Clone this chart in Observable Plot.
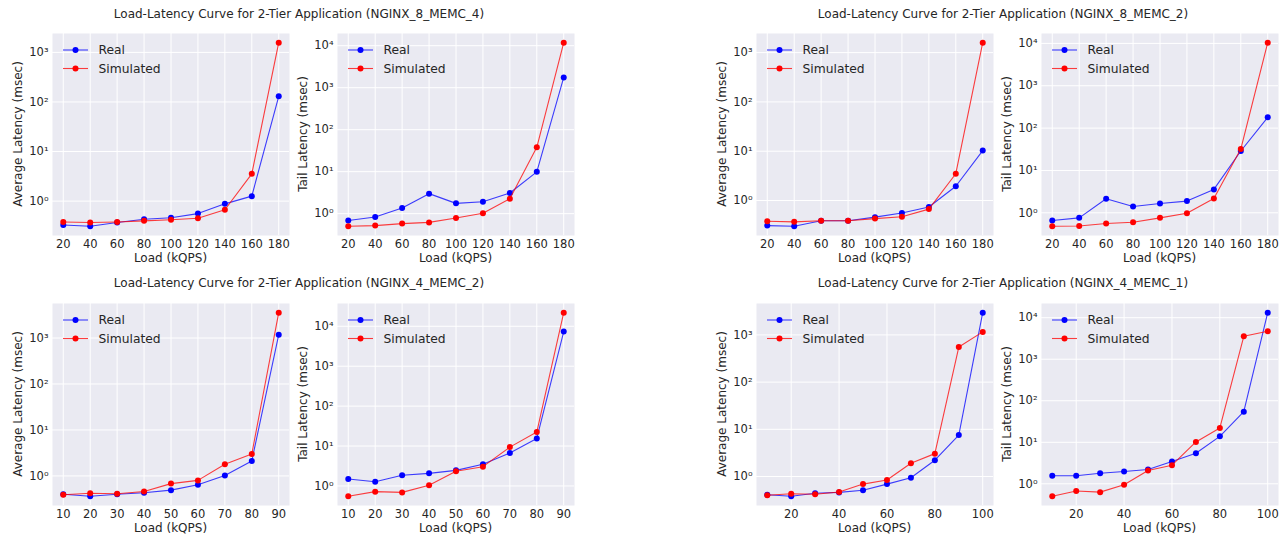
<!DOCTYPE html>
<html>
<head>
<meta charset="utf-8">
<script src="https://cdn.jsdelivr.net/npm/d3@7"></script>
<script src="https://cdn.jsdelivr.net/npm/@observablehq/plot@0.6"></script>
<style>
  body { margin: 0; background: white; }
  #fig { position: relative; width: 1281px; height: 535px; background: white; font-family: "DejaVu Sans", sans-serif; color: #262626; overflow: hidden; }
  .title { position: absolute; font-size: 12px; white-space: nowrap; transform: translate(-50%, -50%); color: #262626; }
  .panel { position: absolute; }
</style>
</head>
<body>
<div id="fig"></div>
<script>
// ---------------- Data ----------------
const titles = [
  "Load-Latency Curve for 2-Tier Application (NGINX_8_MEMC_4)",
  "Load-Latency Curve for 2-Tier Application (NGINX_8_MEMC_2)",
  "Load-Latency Curve for 2-Tier Application (NGINX_4_MEMC_2)",
  "Load-Latency Curve for 2-Tier Application (NGINX_4_MEMC_1)"
];
const seriesNames = ["Real", "Simulated"];
const xLabel = "Load (kQPS)";
const avgLabel = "Average Latency (msec)";
const tailLabel = "Tail Latency (msec)";

// Loads (kQPS)
const load_8 = [20, 40, 60, 80, 100, 120, 140, 160, 180];
const load_4_2 = [10, 20, 30, 40, 50, 60, 70, 80, 90];
const load_4_1 = [10, 20, 30, 40, 50, 60, 70, 80, 90, 100];

// x tick labels
const ticks_8 = [20, 40, 60, 80, 100, 120, 140, 160, 180];
const ticks_4_2 = [10, 20, 30, 40, 50, 60, 70, 80, 90];
const ticks_4_1 = [20, 40, 60, 80, 100];

// NGINX_8_MEMC_4
const avg_8_4_real = [0.33, 0.31, 0.37, 0.43, 0.46, 0.56, 0.88, 1.26, 130];
const avg_8_4_sim  = [0.38, 0.37, 0.38, 0.40, 0.42, 0.45, 0.67, 3.55, 1570];
const tail_8_4_real = [0.69, 0.83, 1.37, 3.0, 1.76, 1.93, 3.11, 9.9, 1760];
const tail_8_4_sim  = [0.50, 0.52, 0.58, 0.62, 0.79, 1.02, 2.28, 38, 11800];

// NGINX_8_MEMC_2
const avg_8_2_real = [0.31, 0.30, 0.39, 0.39, 0.46, 0.56, 0.74, 1.95, 10.3];
const avg_8_2_sim  = [0.38, 0.37, 0.39, 0.39, 0.43, 0.47, 0.67, 3.5, 1590];
const tail_8_2_real = [0.66, 0.76, 2.14, 1.41, 1.66, 1.89, 3.57, 28.8, 180];
const tail_8_2_sim  = [0.48, 0.49, 0.56, 0.60, 0.76, 0.98, 2.18, 32, 10400];

// NGINX_4_MEMC_2
const avg_4_2_real = [0.40, 0.36, 0.40, 0.43, 0.49, 0.64, 1.02, 2.12, 1180];
const avg_4_2_sim  = [0.39, 0.42, 0.41, 0.46, 0.68, 0.80, 1.79, 3.0, 3560];
const tail_4_2_real = [1.5, 1.28, 1.85, 2.07, 2.46, 3.48, 6.7, 15.5, 7370];
const tail_4_2_sim  = [0.55, 0.72, 0.69, 1.04, 2.33, 3.04, 9.4, 22.4, 21900];

// NGINX_4_MEMC_1
const avg_4_1_real = [0.41, 0.38, 0.44, 0.46, 0.51, 0.69, 0.94, 2.21, 7.55, 2960];
const avg_4_1_sim  = [0.40, 0.43, 0.42, 0.47, 0.69, 0.84, 1.91, 3.05, 553, 1160];
const tail_4_1_real = [1.56, 1.56, 1.80, 1.98, 2.21, 3.44, 5.45, 13.9, 54.5, 13200];
const tail_4_1_sim  = [0.50, 0.67, 0.63, 0.95, 2.09, 2.81, 10.2, 22.1, 3560, 4700];

// ---------------- Layout / style ----------------
const colors = ["#0000ff", "#ff0000"];
const PW = 237, PH = 202;
const mL = 56, mR = 4, mT = 4, mB = 34;
const tickFont = 11.5;
const supDigits = {"0":"⁰","1":"¹","2":"²","3":"³","4":"⁴","5":"⁵","-":"⁻"};
const sup = n => String(n).split("").map(c => supDigits[c]).join("");

const fig = document.getElementById("fig");

function panel(cfg) {
  const {x, real, sim, ticks, ylabel, left, top} = cfg;
  const all = real.concat(sim);
  const lo = Math.log10(d3.min(all)), hi = Math.log10(d3.max(all));
  const pad = (hi - lo) * 0.05;
  const xlo = d3.min(x), xhi = d3.max(x), xp = (xhi - xlo) * 0.05;
  const yTicks = d3.range(Math.ceil(lo - pad), Math.floor(hi + pad) + 1).map(e => Math.pow(10, e));
  const rows = x.map((v, i) => ({x: v, real: real[i], sim: sim[i]}));

  const svg = Plot.plot({
    width: mL + PW + mR,
    height: mT + PH + mB,
    marginLeft: mL, marginRight: mR, marginTop: mT, marginBottom: mB,
    style: {background: "transparent", fontFamily: "DejaVu Sans", fontSize: tickFont + "px", color: "#262626", overflow: "visible", maxWidth: "none"},
    x: {domain: [xlo - xp, xhi + xp]},
    y: {type: "log", domain: [Math.pow(10, lo - pad), Math.pow(10, hi + pad)]},
    marks: [
      Plot.frame({fill: "#EAEAF2", stroke: null}),
      Plot.gridX({ticks: ticks, stroke: "white", strokeOpacity: 1, strokeWidth: 1}),
      Plot.gridY({ticks: yTicks, stroke: "white", strokeOpacity: 1, strokeWidth: 1}),
      Plot.axisX({ticks: ticks, tickSize: 0, tickPadding: 4, label: null, fontSize: tickFont}),
      Plot.axisY({ticks: yTicks, tickSize: 0, tickPadding: 4, label: null, fontSize: tickFont,
                  tickFormat: d => "10" + sup(Math.round(Math.log10(d)))}),
      Plot.line(rows, {x: "x", y: "real", stroke: colors[0], strokeWidth: 1.1, strokeOpacity: 0.75}),
      Plot.dot(rows, {x: "x", y: "real", fill: colors[0], r: 3}),
      Plot.line(rows, {x: "x", y: "sim", stroke: colors[1], strokeWidth: 1.1, strokeOpacity: 0.75}),
      Plot.dot(rows, {x: "x", y: "sim", fill: colors[1], r: 3})
    ]
  });

  const s = d3.select(svg);
  // enforce tick label font size on all axis text produced by Plot
  s.selectAll("g[font-size]").attr("font-size", tickFont);
  s.selectAll("text").attr("font-size", tickFont).style("font-size", tickFont + "px").attr("fill", "#262626");
  // axis labels
  s.append("text")
    .attr("x", mL + PW / 2).attr("y", mT + PH + 23)
    .attr("text-anchor", "middle").attr("dominant-baseline", "central")
    .attr("fill", "#262626").style("font-size", "12px").text(xLabel);
  s.append("text")
    .attr("transform", `translate(${mL - 34},${mT + PH / 2}) rotate(-90)`)
    .attr("text-anchor", "middle").attr("dominant-baseline", "central")
    .attr("fill", "#262626").style("font-size", "12px").text(ylabel);
  // legend
  const lg = s.append("g").attr("transform", `translate(${mL},${mT})`);
  seriesNames.forEach((name, i) => {
    const yy = 17 + i * 18.5;
    lg.append("line").attr("x1", 11).attr("x2", 36).attr("y1", yy).attr("y2", yy)
      .attr("stroke", colors[i]).attr("stroke-width", 1.1).attr("stroke-opacity", 0.75);
    lg.append("circle").attr("cx", 23.5).attr("cy", yy).attr("r", 3).attr("fill", colors[i]);
    lg.append("text").attr("x", 46.5).attr("y", yy).attr("dominant-baseline", "central")
      .attr("text-anchor", "start")
      .attr("fill", "#262626").style("font-size", "12.3px").text(name);
  });

  const wrap = document.createElement("div");
  wrap.className = "panel";
  wrap.style.left = (left - mL) + "px";
  wrap.style.top = (top - mT) + "px";
  wrap.style.width = (mL + PW + mR) + "px";
  wrap.appendChild(svg);
  fig.appendChild(wrap);
}

const topY = 33, botY = 303;
const lefts = [52, 337, 756, 1041];

panel({x: load_8, real: avg_8_4_real, sim: avg_8_4_sim, ticks: ticks_8, ylabel: avgLabel, left: lefts[0], top: topY});
panel({x: load_8, real: tail_8_4_real, sim: tail_8_4_sim, ticks: ticks_8, ylabel: tailLabel, left: lefts[1], top: topY});
panel({x: load_8, real: avg_8_2_real, sim: avg_8_2_sim, ticks: ticks_8, ylabel: avgLabel, left: lefts[2], top: topY});
panel({x: load_8, real: tail_8_2_real, sim: tail_8_2_sim, ticks: ticks_8, ylabel: tailLabel, left: lefts[3], top: topY});
panel({x: load_4_2, real: avg_4_2_real, sim: avg_4_2_sim, ticks: ticks_4_2, ylabel: avgLabel, left: lefts[0], top: botY});
panel({x: load_4_2, real: tail_4_2_real, sim: tail_4_2_sim, ticks: ticks_4_2, ylabel: tailLabel, left: lefts[1], top: botY});
panel({x: load_4_1, real: avg_4_1_real, sim: avg_4_1_sim, ticks: ticks_4_1, ylabel: avgLabel, left: lefts[2], top: botY});
panel({x: load_4_1, real: tail_4_1_real, sim: tail_4_1_sim, ticks: ticks_4_1, ylabel: tailLabel, left: lefts[3], top: botY});

// titles
const titlePos = [[299, 14], [1003, 14], [299, 283], [1003, 283]];
titles.forEach((t, i) => {
  const d = document.createElement("div");
  d.className = "title";
  d.style.left = titlePos[i][0] + "px";
  d.style.top = titlePos[i][1] + "px";
  d.textContent = t;
  fig.appendChild(d);
});
</script>
</body>
</html>
